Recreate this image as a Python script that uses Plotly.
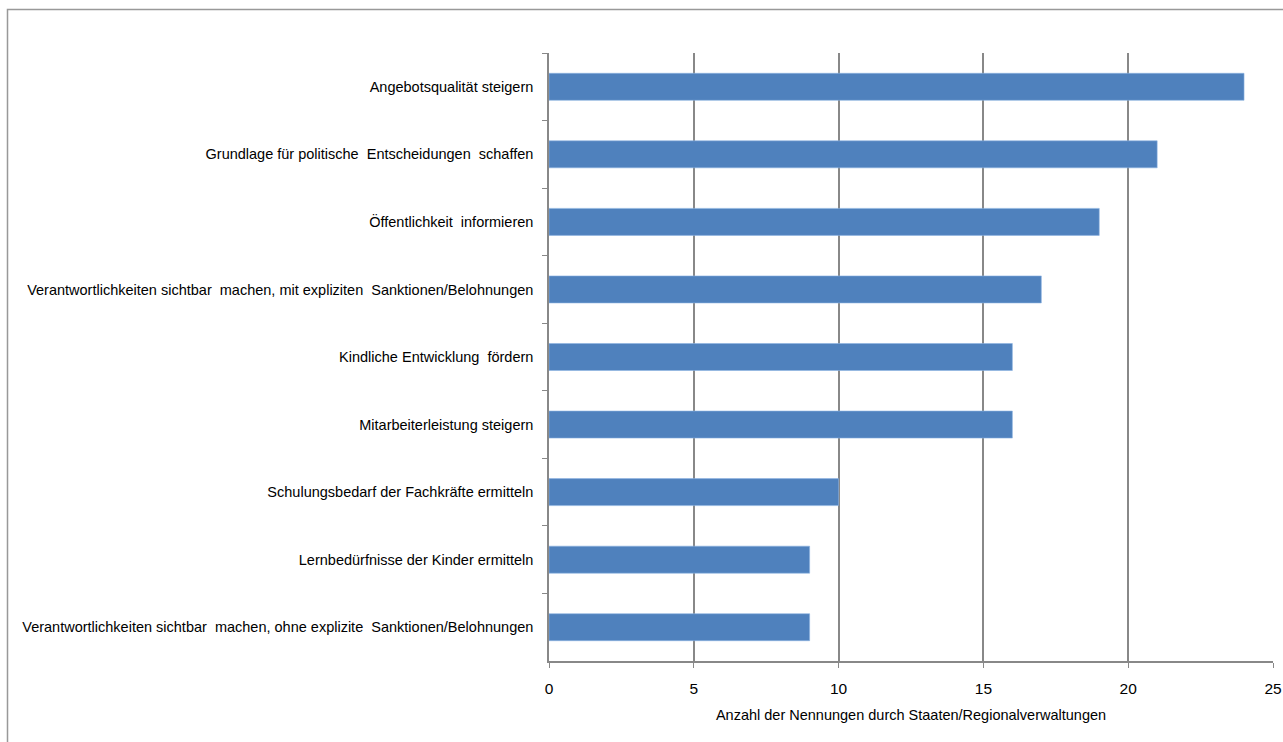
import plotly.graph_objects as go

# Categories in display order (top to bottom) and number of mentions
categories = [
    "Angebotsqualität steigern",
    "Grundlage für politische  Entscheidungen  schaffen",
    "Öffentlichkeit  informieren",
    "Verantwortlichkeiten sichtbar  machen, mit expliziten  Sanktionen/Belohnungen",
    "Kindliche Entwicklung  fördern",
    "Mitarbeiterleistung steigern",
    "Schulungsbedarf der Fachkräfte ermitteln",
    "Lernbedürfnisse der Kinder ermitteln",
    "Verantwortlichkeiten sichtbar  machen, ohne explizite  Sanktionen/Belohnungen",
]
mentions = [24, 21, 19, 17, 16, 16, 10, 9, 9]
x_ticks = [0, 5, 10, 15, 20, 25]
x_title = "Anzahl der Nennungen durch Staaten/Regionalverwaltungen"

FONT = "Liberation Sans, Arial, sans-serif"
GRID = "#888888"

L, R, T, B = 549, 10, 53, 81
W, H = 1283, 742
PW, PH = W - L - R, H - T - B

fig = go.Figure(
    go.Bar(
        x=mentions,
        y=categories,
        orientation="h",
        marker=dict(color="#4F81BD", line=dict(color="#8DB3E2", width=0.6)),
        hoverinfo="x+y",
    )
)

fig.update_layout(
    width=W,
    height=H,
    margin=dict(l=L, r=R, t=T, b=B, autoexpand=False),
    paper_bgcolor="white",
    plot_bgcolor="white",
    bargap=0.6,
    showlegend=False,
    font=dict(family=FONT, size=14.5, color="#000000"),
    xaxis=dict(
        range=[0, 25],
        tickvals=x_ticks,
        ticks="outside",
        ticklen=5,
        tickcolor=GRID,
        showline=True,
        linecolor=GRID,
        linewidth=1.5,
        showgrid=True,
        gridcolor=GRID,
        gridwidth=1.5,
        zeroline=False,
        automargin=False,
        ticklabelstandoff=8,
        tickfont=dict(family=FONT, size=15.5),
        title=dict(text=x_title, font=dict(family=FONT, size=14.5), standoff=14),
    ),
    yaxis=dict(
        autorange="reversed",
        type="category",
        tickson="boundaries",
        ticks="outside",
        ticklen=5,
        tickcolor=GRID,
        showline=True,
        linecolor=GRID,
        linewidth=1.5,
        showgrid=False,
        automargin=False,
        ticklabelstandoff=11,
        tickfont=dict(family=FONT, size=14.5),
    ),
    shapes=[
        dict(
            type="rect",
            xref="paper",
            yref="paper",
            x0=(7.5 - L) / PW,
            x1=2,
            y0=-1,
            y1=(H - B - 9.5) / PH,
            line=dict(color="#999999", width=1.5),
            fillcolor="rgba(0,0,0,0)",
            layer="below",
        )
    ],
)

fig.write_html("out.html")
